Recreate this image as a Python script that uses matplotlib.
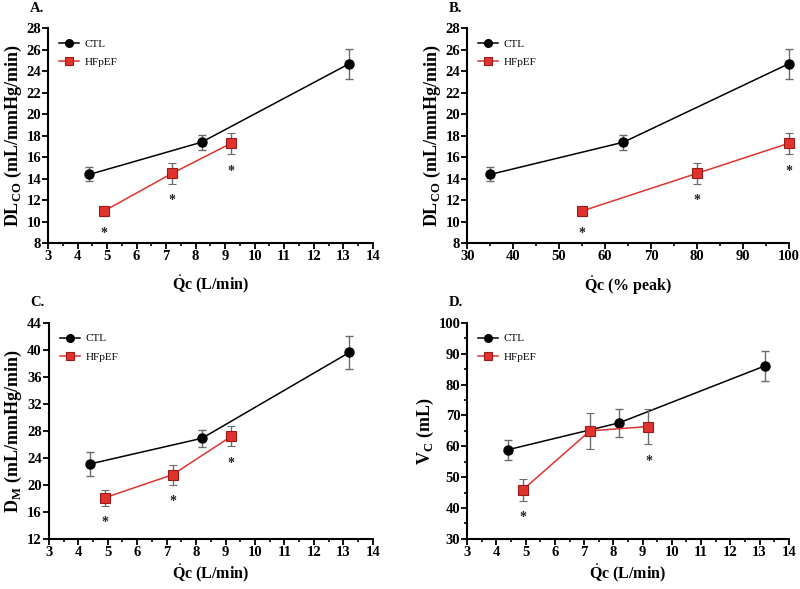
import matplotlib
matplotlib.use('Agg')
import matplotlib.pyplot as plt
from matplotlib.ticker import MultipleLocator
from matplotlib.lines import Line2D

plt.rcParams['font.family'] = ['Liberation Serif', 'DejaVu Serif']
plt.rcParams['mathtext.fontset'] = 'custom'
plt.rcParams['mathtext.rm'] = 'Liberation Serif'
plt.rcParams['mathtext.bf'] = 'Liberation Serif:bold'

# ===== data =====
qc_ctl = [4.4, 8.2, 13.2]
qc_hf = [4.9, 7.2, 9.2]
pct_ctl = [35, 64, 100]
pct_hf = [55, 80, 100]

dlco_ctl = [14.4, 17.4, 24.7]
dlco_ctl_err = [0.65, 0.7, 1.4]
dlco_hf = [11.0, 14.5, 17.3]
dlco_hf_err = [0.5, 0.95, 1.0]

dm_ctl = [23.1, 26.9, 39.6]
dm_ctl_err = [1.8, 1.3, 2.5]
dm_hf = [18.1, 21.5, 27.2]
dm_hf_err = [1.2, 1.5, 1.5]

vc_ctl = [58.9, 67.6, 86.1]
vc_ctl_err = [3.2, 4.6, 4.8]
vc_hf = [45.9, 65.0, 66.4]
vc_hf_err = [3.6, 5.9, 5.8]

# which HFpEF points carry a significance star
sig_A = [True, True, True]
sig_B = [True, True, True]
sig_C = [True, True, True]
sig_D = [True, False, True]

RED = '#e0332e'
RED_EDGE = '#9a1a1a'
ERR = '#6b6b6b'

fig = plt.figure(figsize=(8, 5.89), dpi=100)

# legend handles: marker + line only, no error bars
leg_handles = [
    Line2D([], [], color='black', lw=1.1, marker='o', ms=5.5, mfc='black',
           mec='black', label='CTL'),
    Line2D([], [], color=RED, lw=1.1, marker='s', ms=6, mfc=RED,
           mec=RED_EDGE, mew=0.8, label='HFpEF'),
]


def panel(rect, xc, yc, ec, xh, yh, eh, sig, xlim, xmajor, xminor, ylim, ymajor,
          yminor, xlabel, ylabel, tag, xpad):
    ax = fig.add_axes(rect)
    c = ax.errorbar(xc, yc, yerr=ec, color='black', lw=1.1, marker='o', ms=6.5,
                    mfc='black', mec='black', ecolor=ERR, elinewidth=1, capsize=3,
                    capthick=1, zorder=3)
    h = ax.errorbar(xh, yh, yerr=eh, color=RED, lw=1.1, marker='s', ms=7,
                    mfc=RED, mec=RED_EDGE, mew=0.8, ecolor=ERR, elinewidth=1,
                    capsize=3, capthick=1, zorder=4)
    for cont in (c, h):
        for art in cont.get_children():
            art.set_clip_on(False)
    for x, y, e, s in zip(xh, yh, eh, sig):
        if s:
            ax.annotate('*', xy=(x, y - e), xytext=(0, -17),
                        textcoords='offset pixels', ha='center', va='center',
                        fontsize=10, fontweight='bold', color='#222222')
    ax.set_xlim(*xlim)
    ax.set_ylim(*ylim)
    ax.xaxis.set_major_locator(MultipleLocator(xmajor))
    ax.xaxis.set_minor_locator(MultipleLocator(xminor))
    ax.yaxis.set_major_locator(MultipleLocator(ymajor))
    if yminor:
        ax.yaxis.set_minor_locator(MultipleLocator(yminor))
    for s in ['top', 'right']:
        ax.spines[s].set_visible(False)
    for s in ['left', 'bottom']:
        ax.spines[s].set_linewidth(1.5)
    ax.tick_params(which='major', length=4, width=1.3, labelsize=10.5, pad=1)
    ax.tick_params(which='minor', length=2.5, width=1.2)
    for lab in ax.get_xticklabels() + ax.get_yticklabels():
        lab.set_fontweight('bold')
    ax.set_xlabel(xlabel, fontsize=11.5, fontweight='bold', labelpad=xpad)
    ax.set_ylabel(ylabel, fontsize=13, fontweight='bold', labelpad=2)
    ax.legend(handles=leg_handles, loc='upper left', bbox_to_anchor=(0.02, 0.97),
              frameon=False, fontsize=8, handlelength=1.8, handletextpad=0.5,
              labelspacing=0.75, borderaxespad=0)
    fig.text(rect[0] - 0.023, rect[1] + rect[3] + 0.034, tag, fontsize=10.5,
             fontweight='bold', va='center', ha='left')
    return ax


xl_qc = r'$\dot{\mathbf{Q}}$c (L/min)'
xl_pct = r'$\dot{\mathbf{Q}}$c (% peak)'
yl_dl = r'DL$_{\mathbf{CO}}$ (mL/mmHg/min)'

panel([0.060, 0.587, 0.406, 0.365], qc_ctl, dlco_ctl, dlco_ctl_err,
      qc_hf, dlco_hf, dlco_hf_err, sig_A, (3, 14), 1, 0.5, (8, 28), 2, None,
      xl_qc, yl_dl, 'A.', 8)
panel([0.584, 0.587, 0.402, 0.365], pct_ctl, dlco_ctl, dlco_ctl_err,
      pct_hf, dlco_hf, dlco_hf_err, sig_B, (30, 100), 10, 5, (8, 28), 2, None,
      xl_pct, yl_dl, 'B.', 8)
panel([0.061, 0.085, 0.405, 0.367], qc_ctl, dm_ctl, dm_ctl_err,
      qc_hf, dm_hf, dm_hf_err, sig_C, (3, 14), 1, 0.5, (12, 44), 4, None,
      xl_qc, r'D$_{\mathbf{M}}$ (mL/mmHg/min)', 'C.', 3)
panel([0.584, 0.085, 0.402, 0.367], qc_ctl, vc_ctl, vc_ctl_err,
      qc_hf, vc_hf, vc_hf_err, sig_D, (3, 14), 1, 0.5, (30, 100), 10, 5,
      xl_qc, r'V$_{\mathbf{C}}$ (mL)', 'D.', 3)

fig.savefig('out.png', dpi=100, facecolor='white')
